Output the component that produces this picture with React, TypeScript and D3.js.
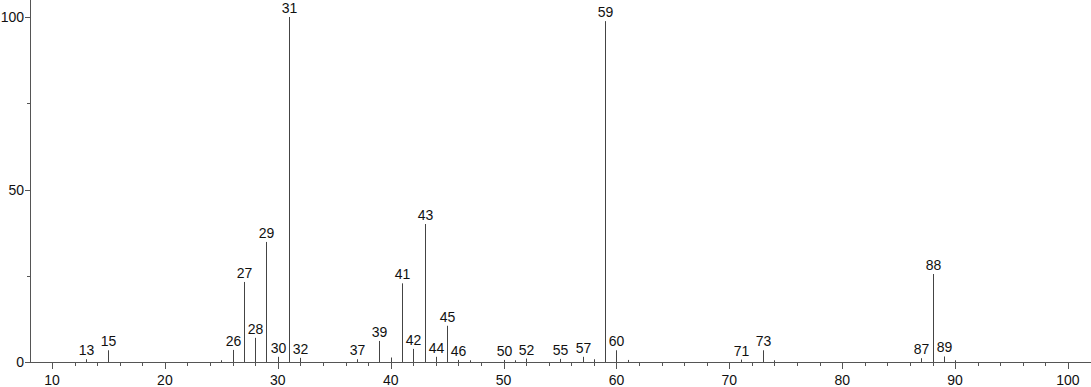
import * as d3 from "d3";
import { useEffect, useRef } from "react";

// m/z values and relative intensities
const mz = [13, 15, 25, 26, 27, 28, 29, 30, 31, 32, 37, 39, 40, 41, 42, 43, 44, 45, 46, 47, 50, 51, 52, 55, 57, 58, 59, 60, 61, 71, 73, 74, 87, 88, 89, 90];
const intensity = [0.8, 3.4, 0.5, 3.5, 23.2, 7, 34.8, 1.5, 100, 1.2, 0.8, 6.1, 1.3, 22.8, 3.8, 40, 1.5, 10.5, 0.6, 0.5, 0.6, 0.5, 1, 0.9, 1.5, 0.8, 98.8, 3.4, 0.6, 0.7, 3.4, 0.5, 1.1, 25.5, 1.6, 0.5];
const labelled = [13, 15, 26, 27, 28, 29, 30, 31, 32, 37, 39, 41, 42, 43, 44, 45, 46, 50, 52, 55, 57, 59, 60, 71, 73, 87, 88, 89];
const xTicks = [10, 20, 30, 40, 50, 60, 70, 80, 90, 100];
const yTicks = [0, 50, 100];

export default function App() {
  const ref = useRef<SVGSVGElement>(null);
  const width = 1091;
  const height = 387;

  useEffect(() => {
    const svg = d3.select(ref.current);
    svg.selectAll("*").remove();

    const x = d3.scaleLinear().domain([8.05, 102.04]).range([30, 1091]);
    const y = d3.scaleLinear().domain([0, 100]).range([362, 17]);
    const data = mz.map((m, i) => ({ m, v: intensity[i] }));
    const axisColor = "#555";
    const font = "Arial, 'Liberation Sans', Helvetica, sans-serif";

    // minor ticks every 2 units
    const minor = d3.range(10, 102, 2).filter((v) => v % 10 !== 0);
    svg
      .append("g")
      .selectAll("line")
      .data(minor)
      .join("line")
      .attr("x1", (d) => Math.round(x(d)) + 0.5)
      .attr("x2", (d) => Math.round(x(d)) + 0.5)
      .attr("y1", y(0))
      .attr("y2", y(0) + 4)
      .attr("stroke", axisColor);

    svg
      .append("g")
      .selectAll("line")
      .data(xTicks)
      .join("line")
      .attr("x1", (d) => Math.round(x(d)) + 0.5)
      .attr("x2", (d) => Math.round(x(d)) + 0.5)
      .attr("y1", y(0))
      .attr("y2", y(0) + 7)
      .attr("stroke", axisColor);

    svg
      .append("g")
      .attr("font-family", font)
      .attr("font-size", 14)
      .attr("text-anchor", "middle")
      .selectAll("text")
      .data(xTicks)
      .join("text")
      .attr("x", (d) => x(d))
      .attr("y", 385)
      .attr("fill", "#111")
      .text((d) => d);

    // y axis
    svg
      .append("line")
      .attr("x1", 30.5)
      .attr("x2", 30.5)
      .attr("y1", 0)
      .attr("y2", y(0))
      .attr("stroke", axisColor);

    svg
      .append("g")
      .selectAll("line")
      .data([0, 25, 50, 75, 100])
      .join("line")
      .attr("x1", (d) => (d % 50 === 0 ? 25 : 27))
      .attr("x2", 30)
      .attr("y1", (d) => Math.round(y(d)) + 0.5)
      .attr("y2", (d) => Math.round(y(d)) + 0.5)
      .attr("stroke", axisColor);

    svg
      .append("g")
      .attr("font-family", font)
      .attr("font-size", 14)
      .attr("text-anchor", "end")
      .selectAll("text")
      .data(yTicks)
      .join("text")
      .attr("x", 24)
      .attr("y", (d) => y(d) + 5)
      .attr("fill", "#111")
      .text((d) => d);

    // x axis line
    svg
      .append("line")
      .attr("x1", 30)
      .attr("x2", 1091)
      .attr("y1", Math.round(y(0)) + 0.5)
      .attr("y2", Math.round(y(0)) + 0.5)
      .attr("stroke", axisColor);

    // peaks
    svg
      .append("g")
      .selectAll("line")
      .data(data)
      .join("line")
      .attr("x1", (d) => Math.round(x(d.m)) + 0.5)
      .attr("x2", (d) => Math.round(x(d.m)) + 0.5)
      .attr("y1", y(0))
      .attr("y2", (d) => y(d.v))
      .attr("stroke", "#444");

    svg
      .append("g")
      .attr("font-family", font)
      .attr("font-size", 14)
      .attr("text-anchor", "middle")
      .selectAll("text")
      .data(data.filter((d) => labelled.includes(d.m)))
      .join("text")
      .attr("x", (d) => Math.round(x(d.m)) + 0.5)
      .attr("y", (d) => y(d.v) - 4)
      .attr("fill", "#111")
      .text((d) => d.m);
  }, []);

  return (
    <svg
      ref={ref}
      width={width}
      height={height}
      style={{ position: "absolute", left: 0, top: 0, background: "#fff" }}
    ></svg>
  );
}
